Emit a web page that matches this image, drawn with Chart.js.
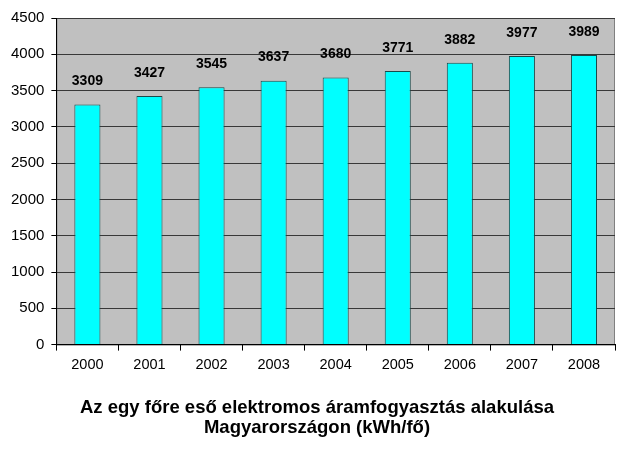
<!DOCTYPE html>
<html>
<head>
<meta charset="utf-8">
<script src="https://cdn.jsdelivr.net/npm/chart.js@4"></script>
<style>
    html, body { margin: 0; padding: 0; background: #fff; }
    #wrap { width: 634px; height: 451px; }
</style>
</head>
<body>
<div id="wrap"><canvas id="chart"></canvas></div>
<script>
// Chart data
const years = ['2000', '2001', '2002', '2003', '2004', '2005', '2006', '2007', '2008'];
const consumption = [3309, 3427, 3545, 3637, 3680, 3771, 3882, 3977, 3989];
const titleLines = ['Az egy főre eső elektromos áramfogyasztás alakulása', 'Magyarországon (kWh/fő)'];

const FONT = '"Liberation Sans", Arial, sans-serif';

// Gray plot background
const plotBackground = {
    id: 'plotBackground',
    beforeDraw(chart) {
        const { ctx, chartArea: a } = chart;
        ctx.save();
        ctx.fillStyle = '#c0c0c0';
        ctx.fillRect(a.left, a.top, a.right - a.left, a.bottom - a.top);
        ctx.strokeStyle = '#808080';
        ctx.lineWidth = 1;
        ctx.strokeRect(a.left + 0.5, a.top + 0.5, a.right - a.left - 1, a.bottom - a.top);
        ctx.restore();
    }
};

// Value labels above bars
const valueLabels = {
    id: 'valueLabels',
    afterDatasetsDraw(chart) {
        const { ctx } = chart;
        const meta = chart.getDatasetMeta(0);
        ctx.save();
        ctx.font = 'bold 14px ' + FONT;
        ctx.fillStyle = '#000';
        ctx.textAlign = 'center';
        ctx.textBaseline = 'middle';
        meta.data.forEach((bar, i) => {
            ctx.fillText(String(consumption[i]), bar.x, bar.y - 23);
        });
        ctx.restore();
    }
};

// Title under the chart, centred on the whole canvas
const bottomTitle = {
    id: 'bottomTitle',
    afterDraw(chart) {
        const { ctx, width, chartArea } = chart;
        ctx.save();
        ctx.font = 'bold 18.5px ' + FONT;
        ctx.fillStyle = '#000';
        ctx.textAlign = 'center';
        ctx.textBaseline = 'middle';
        titleLines.forEach((line, i) => {
            ctx.fillText(line, width / 2, chartArea.bottom + 63 + i * 20);
        });
        ctx.restore();
    }
};

new Chart(document.getElementById('chart'), {
    type: 'bar',
    data: {
        labels: years,
        datasets: [{
            data: consumption,
            backgroundColor: '#00ffff',
            borderColor: '#1a4a4a',
            borderWidth: 1,
            borderSkipped: 'bottom',
            barPercentage: 0.42,
            categoryPercentage: 1
        }]
    },
    options: {
        responsive: true,
        maintainAspectRatio: false,
        animation: false,
        layout: { padding: { top: 18, right: 19, left: 4, bottom: 71 } },
        plugins: {
            legend: { display: false },
            tooltip: { enabled: false },
            title: { display: false }
        },
        scales: {
            x: {
                grid: { display: true, drawOnChartArea: false, drawTicks: true, tickLength: 6, color: '#000', offset: true },
                border: { color: '#000' },
                ticks: { color: '#000', padding: 6, font: { size: 14.5, family: FONT } }
            },
            y: {
                min: 0,
                max: 4500,
                ticks: {
                    stepSize: 500,
                    color: '#000',
                    padding: 7,
                    font: { size: 15, family: FONT },
                    callback: v => String(v)
                },
                grid: { color: '#383838', tickLength: 5, tickColor: '#000' },
                border: { color: '#000' }
            }
        }
    },
    plugins: [plotBackground, valueLabels, bottomTitle]
});
</script>
</body>
</html>
